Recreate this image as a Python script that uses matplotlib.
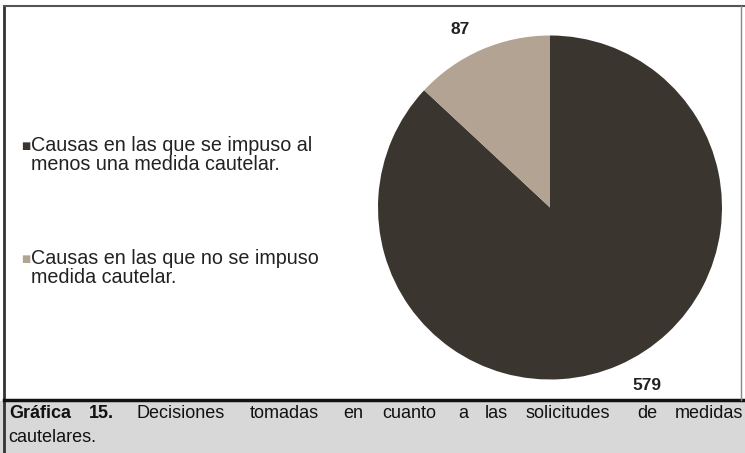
import matplotlib.pyplot as plt
from matplotlib.patches import Rectangle

labels = ['Causas en las que se impuso al\nmenos una medida cautelar.',
          'Causas en las que no se impuso\nmedida cautelar.']
values = [579, 87]
colors = ['#3b352f', '#b2a393']
caption_words = ['Gráfica', '15.', 'Decisiones', 'tomadas', 'en', 'cuanto', 'a',
                 'las', 'solicitudes', 'de', 'medidas']
caption_line2 = 'cautelares.'

plt.rcParams['font.family'] = ['Liberation Sans', 'DejaVu Sans']

fig = plt.figure(figsize=(7.45, 4.53), dpi=100)

# frame + caption band
bg = fig.add_axes([0, 0, 1, 1])
bg.set_xlim(0, 745)
bg.set_ylim(453, 0)
bg.axis('off')
bg.add_patch(Rectangle((0, 401), 745, 52, color='#d8d8d8', zorder=0))
bg.plot([4, 4], [6, 453], color='#333333', lw=2)
bg.plot([4, 745], [6, 6], color='#555555', lw=1.5)
bg.plot([4, 745], [400, 400], color='#111111', lw=2.5)
bg.plot([741, 741], [6, 400], color='#888888', lw=1)

# justified first caption line
xs = [9, 89, 137, 250, 343, 382, 458, 485, 525, 637, 675]
for i, (w, x) in enumerate(zip(caption_words, xs)):
    bg.text(x, 414, w, fontsize=13, va='center', clip_on=True,
            fontweight='bold' if i < 2 else 'normal', color='#111111')
bg.text(8, 438, caption_line2, fontsize=13, va='center', color='#111111')

# legend
for lab, c, y in zip(labels, colors, [155, 268]):
    bg.text(21, y - 9, '■', fontsize=7, va='center', color=c, family='DejaVu Sans')
    bg.text(31, y, lab, fontsize=14.2, va='center',
            color='#222222', linespacing=0.98)

# pie
ax = fig.add_axes([378 / 745, 1 - 380 / 453, 344 / 745, 345 / 453])
ax.pie(values, colors=colors, startangle=90, counterclock=False)
ax.set_aspect('equal')
ax.set_xlim(-1, 1)
ax.set_ylim(-1, 1)

bg.text(460, 30, str(values[1]), fontsize=12.5, fontweight='bold', ha='center',
        va='center', color='#222222')
bg.text(647, 385, str(values[0]), fontsize=12.5, fontweight='bold', ha='center',
        va='center', color='#222222')

fig.savefig('out.png', dpi=100)
